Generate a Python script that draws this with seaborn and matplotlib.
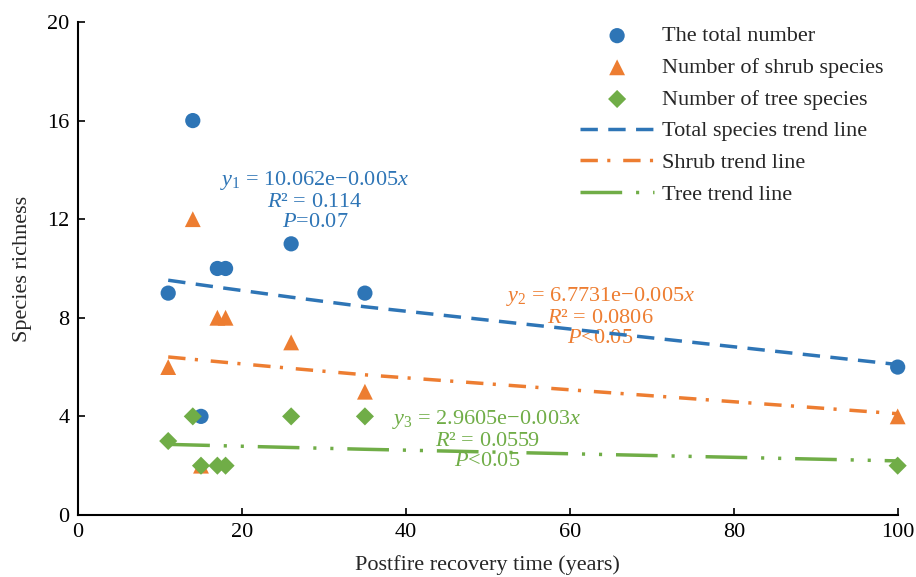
import matplotlib
matplotlib.use('Agg')
import matplotlib.pyplot as plt
import seaborn as sns
import pandas as pd
import numpy as np

# data
years = [11, 14, 15, 17, 18, 26, 35, 100]
total_species = [9, 16, 4, 10, 10, 11, 9, 6]
shrub_species = [6, 12, 2, 8, 8, 7, 5, 4]
tree_species = [3, 4, 2, 2, 2, 4, 4, 2]

# exponential fits printed on the chart: y = a * exp(b * x)
fit_a = [10.062, 6.7731, 2.9605]
fit_b = [-0.005, -0.005, -0.003]

colors = ['#2E75B6', '#ED7D31', '#70AD47']

sns.set_style('ticks')
plt.rcParams['font.family'] = ['Liberation Serif', 'DejaVu Serif']
plt.rcParams['mathtext.fontset'] = 'custom'
plt.rcParams['mathtext.rm'] = 'Liberation Serif'
plt.rcParams['mathtext.it'] = 'Liberation Serif:italic'
plt.rcParams['xtick.direction'] = 'in'
plt.rcParams['ytick.direction'] = 'in'

df = pd.DataFrame({
    'years': years,
    'total': total_species,
    'shrub': shrub_species,
    'tree': tree_species,
})
x_fit = np.array(years, dtype=float)
for key, a, b in zip(['total', 'shrub', 'tree'], fit_a, fit_b):
    df[key + '_fit'] = a * np.exp(b * x_fit)

fig = plt.figure(figsize=(9.16, 5.77), dpi=100)
ax = fig.add_axes([0.0852, 0.1075, 0.8948, 0.8544])

fs = 16
sns.scatterplot(data=df, x='years', y='total', ax=ax, color=colors[0], marker='o',
                s=120, edgecolor='none', label='The total number', zorder=3, clip_on=False)
sns.scatterplot(data=df, x='years', y='shrub', ax=ax, color=colors[1], marker='^',
                s=130, edgecolor='none', label='Number of shrub species', zorder=3, clip_on=False)
sns.scatterplot(data=df, x='years', y='tree', ax=ax, color=colors[2], marker='D',
                s=85, edgecolor='none', label='Number of tree species', zorder=3, clip_on=False)

sns.lineplot(data=df, x='years', y='total_fit', ax=ax, color=colors[0], linewidth=2.5,
             linestyle=(0, (5, 3)), label='Total species trend line', zorder=4)
sns.lineplot(data=df, x='years', y='shrub_fit', ax=ax, color=colors[1], linewidth=2.5,
             linestyle=(0, (5, 2.7, 0.9, 3.7)), label='Shrub trend line', zorder=4)
sns.lineplot(data=df, x='years', y='tree_fit', ax=ax, color=colors[2], linewidth=2.5,
             linestyle=(0, (12, 4, 0.9, 4, 0.9, 4)), label='Tree trend line', zorder=4)

ax.set_xlim(0, 100)
ax.set_ylim(0, 20)
ax.set_xticks([0, 20, 40, 60, 80, 100])
ax.set_yticks([0, 4, 8, 12, 16, 20])
ax.tick_params(labelsize=fs, length=5, width=1.2, colors='black', pad=6)
for side in ['left', 'bottom']:
    ax.spines[side].set_linewidth(1.5)
    ax.spines[side].set_color('black')
sns.despine(ax=ax)

ax.set_xlabel('Postfire recovery time (years)', fontsize=fs, labelpad=9)
ax.set_ylabel('Species richness', fontsize=fs, labelpad=11)

# fit annotations
ax.text(28.9, 14.05, '$y_1$ = 10.062e\u22120.005$x$\n$R$\u00b2 = 0.114\n$P$=0.07',
        color=colors[0], fontsize=fs, ha='center', va='top', multialignment='center',
        linespacing=1.08)
ax.text(63.7, 9.35, '$y_2$ = 6.7731e\u22120.005$x$\n$R$\u00b2 = 0.0806\n$P$<0.05',
        color=colors[1], fontsize=fs, ha='center', va='top', multialignment='center',
        linespacing=1.08)
ax.text(49.9, 4.35, '$y_3$ = 2.9605e\u22120.003$x$\n$R$\u00b2 = 0.0559\n$P$<0.05',
        color=colors[2], fontsize=fs, ha='center', va='top', multialignment='center',
        linespacing=1.08)

ax.legend(loc='upper right', frameon=False, fontsize=fs, handlelength=3.3,
          labelspacing=0.5, borderaxespad=0.0, handletextpad=0.35,
          bbox_to_anchor=(0.993, 1.01))

fig.savefig('out.png', dpi=100)
